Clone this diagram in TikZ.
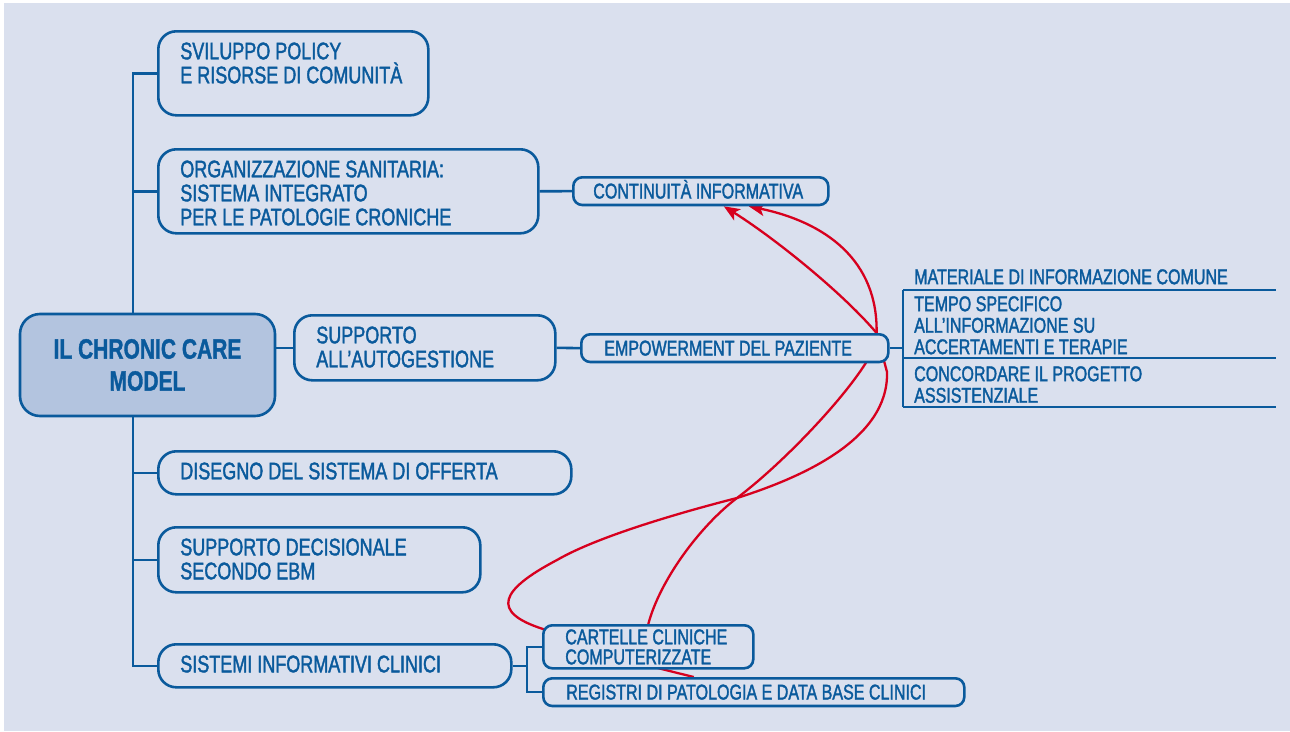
\documentclass[tikz,border=0pt]{standalone}
\usepackage{fontspec}
\setmainfont[FakeStretch=0.75,UprightFeatures={FakeBold=1.6},BoldFeatures={FakeBold=1.2}]{Liberation Sans}
\usetikzlibrary{arrows.meta}
\definecolor{ccmback}{HTML}{DAE0EE}
\definecolor{ccmblue}{HTML}{0A5A9C}
\definecolor{ccmfill}{HTML}{B3C4DF}
\definecolor{ccmred}{HTML}{D7001E}
\pgfdeclarelayer{backdrop}
\pgfdeclarelayer{links}
\pgfsetlayers{backdrop,links,main}

\begin{document}
\begin{tikzpicture}[x=1pt,y=-1pt,
	bigbox/.style={draw=ccmblue, line width=2.6pt, fill=ccmback, text=ccmblue, rounded corners=18pt,
		anchor=north west, align=flush left, inner xsep=22pt, inner ysep=11pt, text height=17pt,
		font=\fontsize{24}{24}\selectfont},
	smallbox/.style={draw=ccmblue, line width=2.6pt, fill=ccmback, text=ccmblue, rounded corners=9pt,
		anchor=north west, align=flush left, inner xsep=23pt, inner ysep=6.5pt, text height=14.7pt, text depth=0pt,
		font=\fontsize{21.4}{20}\selectfont},
	listitem/.style={text=ccmblue, anchor=north west, align=flush left, inner sep=0pt, text width=370pt,
		text height=14.7pt, font=\fontsize{21.4}{21.5}\selectfont},
	blueline/.style={draw=ccmblue, line width=2.6pt},
	redline/.style={draw=ccmred, line width=2.3pt, -{Stealth[length=16pt,width=13pt,inset=4pt]}}]

	% frame
	\useasboundingbox (0,0) rectangle (1290,731);
	\begin{pgfonlayer}{backdrop}
		\fill[ccmback] (4,3) rectangle (1290,731);
	\end{pgfonlayer}

	% centre
	\node[draw=ccmblue, line width=2.6pt, fill=ccmfill, text=ccmblue, rounded corners=20pt,
		minimum width=255pt, minimum height=102pt, align=flush center,
		font=\bfseries\fontsize{28}{32}\selectfont] (ccm) at (147.5,365) {IL CHRONIC CARE\\MODEL};

	% main topics
	\node[bigbox, text width=226pt, text depth=45pt] (policy)   at (157,30)  {SVILUPPO POLICY\\E RISORSE DI COMUNITÀ};
	\node[bigbox, text width=336pt, text depth=45pt] (organiz)  at (157,148) {ORGANIZZAZIONE SANITARIA:\\SISTEMA INTEGRATO\\PER LE PATOLOGIE CRONICHE};
	\node[bigbox, text width=217pt, text depth=26pt] (selfman)  at (293,314) {SUPPORTO\\ALL’AUTOGESTIONE};
	\node[bigbox, text width=369pt, text depth=4pt]  (offer)    at (157,450) {DISEGNO DEL SISTEMA DI OFFERTA};
	\node[bigbox, text width=278pt, text depth=26pt] (decision) at (157,526) {SUPPORTO DECISIONALE\\SECONDO EBM};
	\node[bigbox, text width=309pt, text depth=4pt]  (clinsys)  at (157,643) {SISTEMI INFORMATIVI CLINICI};

	% sub topics
	\node[smallbox, text width=215pt, inner xsep=20pt] (contin) at (572,176) {CONTINUITÀ INFORMATIVA};
	\node[smallbox, text width=261pt] (empower)  at (580,333) {EMPOWERMENT DEL PAZIENTE};
	\node[smallbox, text width=166pt, inner xsep=22pt, inner ysep=4.3pt, text depth=19.7pt] (records) at (542,624) {CARTELLE CLINICHE\\COMPUTERIZZATE};
	\node[smallbox, text width=375pt] (registry) at (542,677) {REGISTRI DI PATOLOGIA E DATA BASE CLINICI};

	% list
	\node[listitem] (material) at (914,269.3) {MATERIALE DI INFORMAZIONE COMUNE};
	\node[listitem] (timeinfo) at (914,296.3) {TEMPO SPECIFICO\\ALL’INFORMAZIONE SU\\ACCERTAMENTI E TERAPIE};
	\node[listitem] (agree)    at (914,366.3) {CONCORDARE IL PROGETTO\\ASSISTENZIALE};

	\coordinate (trunk) at (133,0);
	\coordinate (fork)  at (527,0);
	\coordinate (rail)  at (903,290);
	\coordinate (rail2) at (903,358);
	\coordinate (rail3) at (903,407);
	\coordinate (hub)   at ([xshift=-13pt]empower.north east);
	\coordinate (cross) at (737,498);

	\begin{pgfonlayer}{links}
		% tree lines
		\draw[blueline] (policy.west) -- (policy.west -| trunk) -- (clinsys.west -| trunk) -- (clinsys.west);
		\foreach \n in {organiz,offer,decision}
			\draw[blueline] (\n.west) -- (\n.west -| trunk);
		\draw[blueline] (ccm.east |- selfman.west) -- (selfman.west);
		\draw[blueline] (organiz.east) -- (contin.west);
		\draw[blueline] (selfman.east) -- (empower.west);
		\draw[blueline] (empower.east) -- (empower.east -| rail);
		\draw[blueline] (rail) -- (rail3)
				(rail) -- +(373,0)
				(rail2) -- +(373,0)
				(rail3) -- +(373,0);
		\draw[blueline] (clinsys.east) -- (clinsys.east -| fork);
		\draw[blueline] (records.west) -- (records.west -| fork) -- (registry.west -| fork) -- (registry.west);

		% red links
		\draw[redline] (records.north) .. controls (660,580) and (700,526) .. (cross)
				.. controls (782,464) and (841,402) .. ([xshift=-24pt]empower.south east) -- (hub)
				.. controls (878,260) and (825,222) .. ([xshift=48pt]contin.south);
		\draw[redline] ([xshift=-60pt]registry.north) .. controls (640,664) and (570,645) .. (543,629)
				.. controls (490,612) and (500,590) .. (557,560)
				.. controls (600,535) and (690,510) .. (cross)
				.. controls (800,478) and (889,440) .. (887,372) -- (hub)
				.. controls (840,290) and (770,235) .. ([xshift=23pt]contin.south);
	\end{pgfonlayer}
\end{tikzpicture}
\end{document}
